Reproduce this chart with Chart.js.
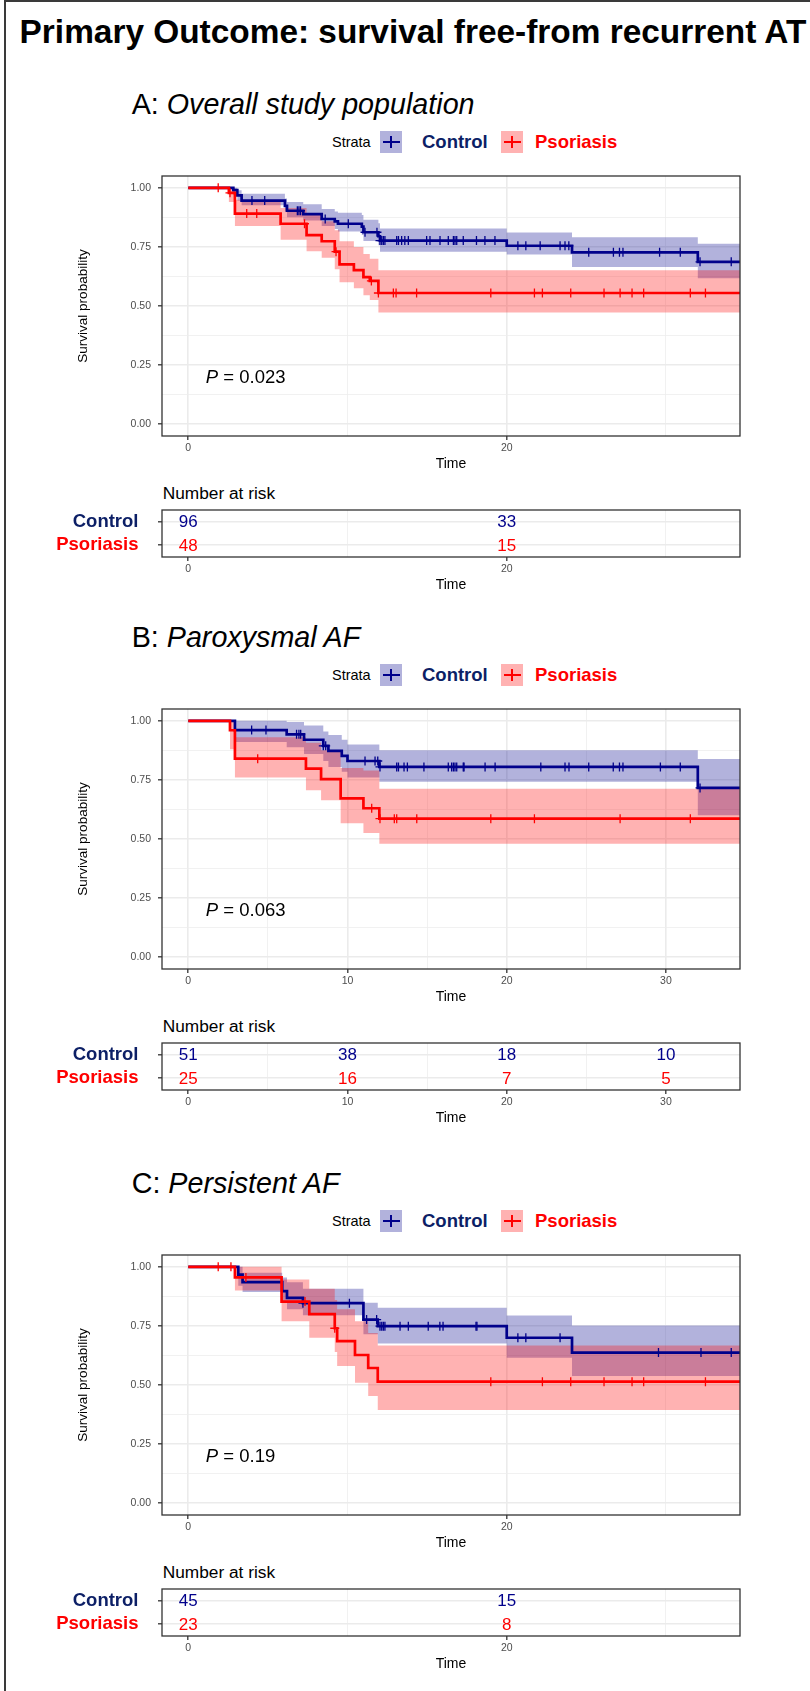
<!DOCTYPE html>
<html>
<head>
<meta charset="utf-8">
<script src="https://cdn.jsdelivr.net/npm/chart.js"></script>
<style>
  html, body { margin: 0; padding: 0; background: #fff; }
  body { width: 810px; height: 1691px; position: relative; overflow: hidden;
         font-family: "Liberation Sans", Arial, Helvetica, sans-serif; color: #000; }
  .frame { position: absolute; left: 4px; top: 0; width: 1000px; height: 2000px;
           border-top: 2px solid #3a3a3a; border-left: 2px solid #3a3a3a; }
  .txt { position: absolute; white-space: nowrap; }
  canvas { position: absolute; }
  .key { position: absolute; width: 22px; height: 22px; }
  .key .kh { position: absolute; left: 2.5px; top: 9.7px; width: 17px; height: 2.7px; }
  .key .kv { position: absolute; left: 10.4px; top: 5px; width: 1.3px; height: 12px; }
</style>
</head>
<body>
<div class="frame"></div>
<script>
// ---- data ----
const strata = ['Control', 'Psoriasis'];

// tick positions / labels
const xMajorAC = [0, 20];
const xMinorAC = [10, 30];
const xMajorB = [0, 10, 20, 30];
const xMinorB = [5, 15, 25];
const yMajor = [0, 0.25, 0.5, 0.75, 1];
const yMinor = [0.125, 0.375, 0.625, 0.875];
const yTickLabels = ['0.00', '0.25', '0.50', '0.75', '1.00'];

// A: overall study population
const timeA_ctrl = [0, 2.83, 3.08, 3.35, 6.07, 6.2, 7.22, 8.38, 9.2, 9.4, 10.9, 11.0, 11.94, 12.04, 20.0, 24.1, 32.0];
const survA_ctrl = [1, 0.99, 0.968, 0.946, 0.924, 0.903, 0.889, 0.868, 0.858, 0.848, 0.836, 0.812, 0.795, 0.777, 0.755, 0.727, 0.687];
const lowA_ctrl = [1, 0.97, 0.945, 0.926, 0.9, 0.875, 0.862, 0.838, 0.826, 0.815, 0.8, 0.775, 0.757, 0.729, 0.718, 0.665, 0.617];
const upA_ctrl = [1, 1, 0.99, 0.975, 0.955, 0.94, 0.93, 0.91, 0.9, 0.894, 0.885, 0.865, 0.85, 0.828, 0.811, 0.791, 0.763];
const censA_ctrl = [4.0, 4.8, 6.85, 6.95, 7.05, 8.6, 10.05, 11.1, 11.85, 12.04, 12.15, 12.25, 12.35, 13.09, 13.2, 13.4, 13.6, 13.82,
  14.97, 15.18, 15.81, 16.33, 16.65, 16.75, 16.86, 17.27, 18.1, 18.63, 19.26, 20.7, 21.2, 22.1, 23.35, 23.66, 23.9,
  25.15, 26.7, 27.08, 27.3, 29.6, 30.9, 32.14, 34.1];

const timeA_pso = [0, 2.55, 2.93, 5.8, 7.43, 8.38, 9.2, 9.5, 10.4, 11.0, 11.4, 11.94];
const survA_pso = [1, 0.979, 0.891, 0.848, 0.8, 0.774, 0.73, 0.676, 0.652, 0.622, 0.606, 0.555];
const lowA_pso = [1, 0.94, 0.838, 0.78, 0.732, 0.704, 0.655, 0.6, 0.575, 0.545, 0.525, 0.473];
const upA_pso = [1, 1, 0.95, 0.915, 0.887, 0.859, 0.82, 0.774, 0.75, 0.72, 0.7, 0.651];
const censA_pso = [1.88, 2.62, 3.67, 4.3, 7.3, 9.28, 11.5, 11.94, 12.88, 13.05, 14.34, 19.0, 21.74, 22.24, 24.02,
  26.11, 27.12, 27.87, 28.6, 31.53, 32.48];

const riskTimesA = [0, 20];
const riskA_ctrl = [96, 33];
const riskA_pso = [48, 15];
const pA = '0.023';

// B: paroxysmal AF
const timeB_ctrl = [0, 2.93, 6.18, 7.27, 8.48, 8.8, 9.64, 10.0, 12.0, 32.0];
const survB_ctrl = [1, 0.961, 0.943, 0.92, 0.894, 0.873, 0.852, 0.83, 0.805, 0.716];
const lowB_ctrl = [1, 0.91, 0.888, 0.86, 0.83, 0.805, 0.785, 0.76, 0.742, 0.6];
const upB_ctrl = [1, 1, 0.995, 0.98, 0.955, 0.94, 0.92, 0.9, 0.876, 0.838];
const censB_ctrl = [3.98, 4.88, 6.8, 6.95, 7.06, 8.48, 8.63, 11.1, 11.73, 11.9, 12.04, 13.09, 13.2, 13.55, 13.76, 14.8,
  16.33, 16.54, 16.65, 16.75, 16.86, 17.27, 17.32, 18.64, 19.27, 22.14, 23.66, 23.91, 25.15, 26.69, 27.08, 27.3,
  29.65, 30.9, 32.14];

const timeB_pso = [0, 2.62, 2.93, 7.39, 8.34, 9.57, 11.0, 12.0];
const survB_pso = [1, 0.96, 0.84, 0.798, 0.753, 0.672, 0.63, 0.586];
const lowB_pso = [1, 0.88, 0.76, 0.706, 0.664, 0.567, 0.525, 0.48];
const upB_pso = [1, 1, 0.93, 0.907, 0.876, 0.8, 0.79, 0.713];
const censB_pso = [4.36, 11.52, 12.04, 12.94, 13.09, 14.35, 19.0, 21.74, 27.12, 31.53];

const riskTimesB = [0, 10, 20, 30];
const riskB_ctrl = [51, 38, 18, 10];
const riskB_pso = [25, 16, 7, 5];
const pB = '0.063';

// C: persistent AF
const timeC_ctrl = [0, 3.14, 3.41, 5.9, 6.2, 7.2, 11.0, 11.9, 20.0, 24.1];
const survC_ctrl = [1, 0.967, 0.935, 0.897, 0.869, 0.846, 0.777, 0.749, 0.7, 0.637];
const lowC_ctrl = [1, 0.92, 0.893, 0.85, 0.82, 0.795, 0.715, 0.676, 0.615, 0.538];
const upC_ctrl = [1, 1, 0.975, 0.955, 0.935, 0.907, 0.848, 0.827, 0.794, 0.752];
const censC_ctrl = [7.2, 10.12, 11.2, 11.83, 12.04, 12.15, 12.25, 12.35, 13.3, 13.82, 15.07, 15.8, 16.0, 18.07, 18.13,
  20.7, 21.2, 23.35, 29.53, 32.2, 34.1];

const timeC_pso = [0, 2.93, 5.86, 7.6, 9.2, 9.35, 10.47, 11.3, 11.9];
const survC_pso = [1, 0.955, 0.853, 0.8, 0.74, 0.686, 0.627, 0.572, 0.514];
const lowC_pso = [1, 0.9, 0.77, 0.7, 0.64, 0.58, 0.51, 0.453, 0.394];
const upC_pso = [1, 1, 0.946, 0.907, 0.86, 0.82, 0.77, 0.72, 0.667];
const censC_pso = [1.88, 2.68, 3.62, 7.33, 9.2, 19.0, 22.24, 24.02, 26.11, 27.87, 28.6, 32.48];

const riskTimesC = [0, 20];
const riskC_ctrl = [45, 15];
const riskC_pso = [23, 8];
const pC = '0.19';

// ---- styling / layout ----
const X_MIN = -1.65, X_MAX = 34.65;
const BLUE = '#00008b', RED = '#ff0000';
const BLUE_BAND = 'rgba(0,0,139,0.3)', RED_BAND = 'rgba(255,0,0,0.3)';
const NAVY_TXT = '#0c1f66';
const FONT = "'Liberation Sans', Arial, Helvetica, sans-serif";
const PVAL_AT = {x: 1.1, y: 0.195};

Chart.defaults.font.family = FONT;

function isIn(arr, v) { return arr.some(a => Math.abs(a - v) < 1e-9); }

function stepData(times, vals) {
  const pts = times.map((t, i) => ({x: t, y: vals[i]}));
  pts.push({x: X_MAX, y: vals[vals.length - 1]});
  return pts;
}

function survAt(times, vals, t) {
  let v = vals[0];
  for (let i = 0; i < times.length; i++) if (times[i] <= t) v = vals[i];
  return v;
}

function noPad(ax) { ax.paddingLeft = ax.paddingRight = ax.paddingTop = ax.paddingBottom = 0; }

const panelBox = {
  id: 'panelBox',
  afterDraw(chart) {
    const a = chart.chartArea, ctx = chart.ctx;
    ctx.save();
    ctx.strokeStyle = '#333';
    ctx.lineWidth = 1.3;
    ctx.strokeRect(a.left, a.top, a.right - a.left, a.bottom - a.top);
    ctx.restore();
  }
};

const pvalText = {
  id: 'pvalText',
  afterDatasetsDraw(chart, args, opts) {
    if (!opts.text) return;
    const ctx = chart.ctx;
    const px = chart.scales.x.getPixelForValue(opts.x);
    const py = chart.scales.y.getPixelForValue(opts.y);
    ctx.save();
    ctx.fillStyle = '#000';
    ctx.textBaseline = 'middle';
    ctx.textAlign = 'left';
    ctx.font = 'italic 18.5px ' + FONT;
    ctx.fillText('P', px, py);
    const w = ctx.measureText('P').width;
    ctx.font = '18.5px ' + FONT;
    ctx.fillText(' = ' + opts.text, px + w, py);
    ctx.restore();
  }
};

const riskNumbers = {
  id: 'riskNumbers',
  afterDatasetsDraw(chart) {
    const ctx = chart.ctx;
    chart.data.datasets.forEach((ds, di) => {
      const meta = chart.getDatasetMeta(di);
      ctx.save();
      ctx.font = '17px ' + FONT;
      ctx.fillStyle = ds.textColor;
      ctx.textAlign = 'center';
      ctx.textBaseline = 'middle';
      meta.data.forEach((pt, i) => ctx.fillText(String(ds.counts[i]), pt.x, pt.y + 1));
      ctx.restore();
    });
  }
};

function timeAxis(major, minor, showMajorGrid) {
  return {
    type: 'linear', min: X_MIN, max: X_MAX,
    afterBuildTicks: ax => { ax.ticks = major.concat(minor).sort((a, b) => a - b).map(v => ({value: v})); },
    afterFit: ax => { ax.height = 45; noPad(ax); },
    ticks: {
      autoSkip: false, maxRotation: 0, minRotation: 0, padding: 2, color: '#4d4d4d', font: {size: 10.5},
      callback: v => isIn(major, v) ? String(v) : ''
    },
    grid: {
      color: c => {
        if (!c.tick) return 'rgba(0,0,0,0)';
        if (isIn(major, c.tick.value)) return showMajorGrid ? '#ebebeb' : 'rgba(0,0,0,0)';
        return '#ededed';
      },
      lineWidth: c => (c.tick && isIn(major, c.tick.value)) ? 1.6 : 0.8,
      tickColor: c => (c.tick && isIn(major, c.tick.value)) ? '#333' : 'rgba(0,0,0,0)',
      tickWidth: 1.3, tickLength: 4, drawTicks: true
    },
    border: {display: false},
    title: {display: true, text: 'Time', color: '#000', font: {size: 14}, padding: {top: 0, bottom: 8.6}}
  };
}

function baseOptions() {
  return {
    responsive: false, animation: false, events: [],
    layout: {padding: {left: 0, top: 14, right: 60, bottom: 0}},
    plugins: {legend: {display: false}, tooltip: {enabled: false}, filler: {drawTime: 'beforeDatasetsDraw'}}
  };
}

function groupSets(times, surv, low, up, cens, line, band) {
  return [
    {data: stepData(times, low), stepped: true, borderColor: 'rgba(0,0,0,0)', borderWidth: 0, pointRadius: 0, fill: false},
    {data: stepData(times, up), stepped: true, borderColor: 'rgba(0,0,0,0)', borderWidth: 0, pointRadius: 0,
      fill: '-1', backgroundColor: band},
    {data: stepData(times, surv), stepped: true, borderColor: line, borderWidth: 2.7, pointRadius: 0, fill: false},
    {data: cens.map(t => ({x: t, y: survAt(times, surv, t)})), showLine: false, pointStyle: 'cross',
      pointRadius: 4.5, pointBorderWidth: 1.3, borderColor: line, backgroundColor: line, fill: false}
  ];
}

function addCanvas(top, height) {
  const c = document.createElement('canvas');
  c.width = 800; c.height = height;
  c.style.left = '0px'; c.style.top = top + 'px';
  c.style.width = '800px'; c.style.height = height + 'px';
  document.body.appendChild(c);
  return c;
}

function addText(html, left, cy, size, extra) {
  const d = document.createElement('div');
  d.className = 'txt';
  d.innerHTML = html;
  d.style.left = left + 'px';
  d.style.top = (cy - size / 2) + 'px';
  d.style.fontSize = size + 'px';
  d.style.lineHeight = size + 'px';
  Object.assign(d.style, extra || {});
  document.body.appendChild(d);
  return d;
}

function addKey(left, cy, band, line) {
  const k = document.createElement('div');
  k.className = 'key';
  k.style.left = left + 'px';
  k.style.top = (cy - 11) + 'px';
  k.style.background = band;
  k.innerHTML = '<div class="kh" style="background:' + line + '"></div><div class="kv" style="background:' + line + '"></div>';
  document.body.appendChild(k);
}

// ---- title ----
addText('Primary Outcome: survival free-from recurrent AT', 19.6, 32, 33.4, {fontWeight: 'bold'});

const panels = [
  {letter: 'A', name: 'Overall study population', top: 176,
    ctrl: [timeA_ctrl, survA_ctrl, lowA_ctrl, upA_ctrl, censA_ctrl],
    pso: [timeA_pso, survA_pso, lowA_pso, upA_pso, censA_pso],
    riskT: riskTimesA, riskCtrl: riskA_ctrl, riskPso: riskA_pso, p: pA, xMajor: xMajorAC, xMinor: xMinorAC},
  {letter: 'B', name: 'Paroxysmal AF', top: 709,
    ctrl: [timeB_ctrl, survB_ctrl, lowB_ctrl, upB_ctrl, censB_ctrl],
    pso: [timeB_pso, survB_pso, lowB_pso, upB_pso, censB_pso],
    riskT: riskTimesB, riskCtrl: riskB_ctrl, riskPso: riskB_pso, p: pB, xMajor: xMajorB, xMinor: xMinorB},
  {letter: 'C', name: 'Persistent AF', top: 1255,
    ctrl: [timeC_ctrl, survC_ctrl, lowC_ctrl, upC_ctrl, censC_ctrl],
    pso: [timeC_pso, survC_pso, lowC_pso, upC_pso, censC_pso],
    riskT: riskTimesC, riskCtrl: riskC_ctrl, riskPso: riskC_pso, p: pC, xMajor: xMajorAC, xMinor: xMinorAC}
];

panels.forEach(pn => {
  const top = pn.top;

  // panel heading and legend
  addText(pn.letter + ': <i>' + pn.name + '</i>', 131.7, top - 72, 28.7);
  const ly = top - 34;
  addText('Strata', 332, ly, 14.5);
  addKey(380, ly, BLUE_BAND, BLUE);
  addText('Control', 422, ly, 18.5, {fontWeight: 'bold', color: NAVY_TXT});
  addKey(501, ly, RED_BAND, RED);
  addText('Psoriasis', 535, ly, 18.5, {fontWeight: 'bold', color: RED});

  // survival curves
  const km = addCanvas(top - 14, 14 + 260 + 45);
  const kmOpts = baseOptions();
  kmOpts.plugins.pvalText = {text: pn.p, x: PVAL_AT.x, y: PVAL_AT.y};
  kmOpts.scales = {
    x: timeAxis(pn.xMajor, pn.xMinor, true),
    y: {
      type: 'linear', min: -0.05, max: 1.05,
      afterBuildTicks: ax => { ax.ticks = yMajor.concat(yMinor).sort((a, b) => a - b).map(v => ({value: v})); },
      afterFit: ax => { ax.width = 162; noPad(ax); },
      ticks: {
        autoSkip: false, padding: 7, color: '#4d4d4d', font: {size: 10.5},
        callback: v => { const i = yMajor.indexOf(v); return i >= 0 ? yTickLabels[i] : ''; }
      },
      grid: {
        color: c => (c.tick && isIn(yMajor, c.tick.value)) ? '#ebebeb' : '#ededed',
        lineWidth: c => (c.tick && isIn(yMajor, c.tick.value)) ? 1.6 : 0.8,
        tickColor: c => (c.tick && isIn(yMajor, c.tick.value)) ? '#333' : 'rgba(0,0,0,0)',
        tickWidth: 1.3, tickLength: 4
      },
      border: {display: false},
      title: {display: true, text: 'Survival probability', color: '#000', font: {size: 13.5}, padding: {top: 74.9, bottom: 0}}
    }
  };
  new Chart(km, {
    type: 'line',
    data: {datasets: [].concat(
      groupSets(...pn.pso, RED, RED_BAND),
      groupSets(...pn.ctrl, BLUE, BLUE_BAND)
    )},
    options: kmOpts,
    plugins: [panelBox, pvalText]
  });

  // number at risk table
  const rTop = top + 334;
  addText('Number at risk', 162.7, rTop - 16.6, 17.3);
  const rk = addCanvas(rTop - 14, 14 + 47 + 45);
  const rkOpts = baseOptions();
  rkOpts.scales = {
    x: timeAxis(pn.xMajor, pn.xMinor, false),
    y: {
      type: 'category', labels: strata, offset: true,
      afterFit: ax => { ax.width = 162; noPad(ax); },
      ticks: {autoSkip: false, padding: 19.5, color: c => c.index === 0 ? NAVY_TXT : RED,
        font: {size: 18.5, weight: 'bold'}},
      grid: {color: '#ebebeb', lineWidth: 1.6, tickColor: '#333', tickWidth: 1.3, tickLength: 4},
      border: {display: false}
    }
  };
  new Chart(rk, {
    type: 'scatter',
    data: {datasets: [
      {data: pn.riskT.map(t => ({x: t, y: strata[0]})), counts: pn.riskCtrl, textColor: BLUE, pointRadius: 0},
      {data: pn.riskT.map(t => ({x: t, y: strata[1]})), counts: pn.riskPso, textColor: RED, pointRadius: 0}
    ]},
    options: rkOpts,
    plugins: [panelBox, riskNumbers]
  });
});
</script>
</body>
</html>
